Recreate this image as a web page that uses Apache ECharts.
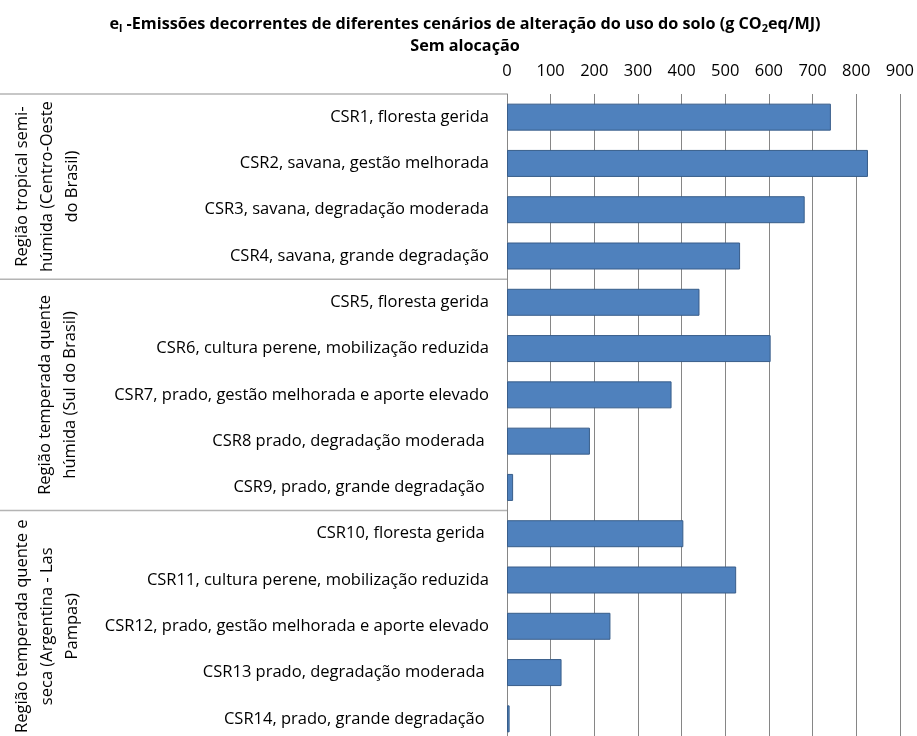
<!DOCTYPE html>
<html>
<head>
<meta charset="utf-8">
<script src="https://cdn.jsdelivr.net/npm/echarts@6/dist/echarts.min.js"></script>
<style>
html,body{margin:0;padding:0;background:#fff;overflow:hidden;}
#c{width:917px;height:742px;}
</style>
</head>
<body>
<div id="c"></div>
<script>
// ---- data ----
const categories = [
  'CSR1, floresta gerida',
  'CSR2, savana, gestão melhorada',
  'CSR3, savana, degradação moderada',
  'CSR4, savana, grande degradação',
  'CSR5, floresta gerida',
  'CSR6, cultura perene, mobilização reduzida',
  'CSR7, prado, gestão melhorada e aporte elevado',
  'CSR8 prado, degradação moderada ',
  'CSR9, prado, grande degradação ',
  'CSR10, floresta gerida ',
  'CSR11, cultura perene, mobilização reduzida',
  'CSR12, prado, gestão melhorada e aporte elevado',
  'CSR13 prado, degradação moderada ',
  'CSR14, prado, grande degradação '
];
const values = [742, 827, 682, 534, 441, 604, 377, 190, 14, 404, 525, 237, 125, 6];
const groupNames = [
  'Região tropical semi-\nhúmida (Centro-Oeste\ndo Brasil)',
  'Região temperada quente\nhúmida (Sul do Brasil)',
  'Região temperada quente e\nseca (Argentina - Las\nPampas)'
];
const groupSizes = [4, 5, 5];
const xTicks = [0, 100, 200, 300, 400, 500, 600, 700, 800, 900];

const FONT = '"Open Sans", "Liberation Sans", sans-serif';
const FS = 16.5;
const chart = echarts.init(document.getElementById('c'), null, {renderer: 'canvas'});

const option = {
  backgroundColor: '#fff',
  animation: false,
  title: {
    left: 460,
    textAlign: 'center',
    top: 8,
    itemGap: 3,
    text: '{b|e}{s|l}{b| -Emissões decorrentes de diferentes cenários de alteração do uso do solo (g CO}{s|2}{b|eq/MJ)}',
    textStyle: {
      rich: {
        b: {fontFamily: FONT, fontWeight: 'bold', fontSize: 16.2, color: '#000', lineHeight: 22, verticalAlign: 'middle'},
        s: {fontFamily: FONT, fontWeight: 'bold', fontSize: 11, color: '#000', lineHeight: 22, padding: [9, 0, 0, 0]}
      }
    },
    subtext: 'Sem alocação',
    subtextStyle: {fontFamily: FONT, fontWeight: 'bold', fontSize: 16.2, color: '#000', lineHeight: 20}
  },
  grid: {left: 507, right: 17, top: 94, bottom: 0, containLabel: false},
  xAxis: {
    type: 'value',
    position: 'top',
    min: xTicks[0],
    max: xTicks[xTicks.length - 1],
    interval: 100,
    axisLine: {show: false},
    axisTick: {show: false},
    axisLabel: {fontFamily: FONT, fontSize: FS, color: '#000', margin: 14},
    splitLine: {show: true, lineStyle: {color: '#868686', width: 1}}
  },
  yAxis: {
    type: 'category',
    inverse: true,
    data: categories,
    axisLine: {show: true, lineStyle: {color: '#868686', width: 1}},
    axisTick: {show: false},
    axisLabel: {fontFamily: FONT, fontSize: FS, color: '#000', margin: 18}
  },
  series: [{
    type: 'bar',
    data: values,
    barWidth: 27,
    itemStyle: {color: '#4F81BD', borderColor: '#385D8A', borderWidth: 1}
  }]
};
chart.setOption(option);

// group labels and separators derived from the category scale
const py = i => chart.convertToPixel({yAxisIndex: 0}, i);
const step = py(1) - py(0);
const graphics = [];
let start = 0;
const groupX = [47, 58, 47];
const sepColor = '#b4b4b4';
const firstTop = py(0) - step / 2;
graphics.push({type: 'line', shape: {x1: 0, y1: firstTop, x2: 507, y2: firstTop}, style: {stroke: sepColor, lineWidth: 1.5}, silent: true});
groupSizes.forEach((n, g) => {
  const top = py(start) - step / 2;
  const bottom = py(start + n - 1) + step / 2;
  graphics.push({
    type: 'text',
    x: groupX[g],
    y: (top + bottom) / 2,
    rotation: Math.PI / 2,
    style: {text: groupNames[g], font: FS + 'px ' + FONT, fill: '#000', align: 'center', verticalAlign: 'middle', lineHeight: 25},
    silent: true
  });
  if (g < groupSizes.length - 1) {
    graphics.push({type: 'line', shape: {x1: 0, y1: bottom, x2: 507, y2: bottom}, style: {stroke: sepColor, lineWidth: 1.5}, silent: true});
  }
  start += n;
});
chart.setOption({graphic: graphics});
</script>
</body>
</html>
